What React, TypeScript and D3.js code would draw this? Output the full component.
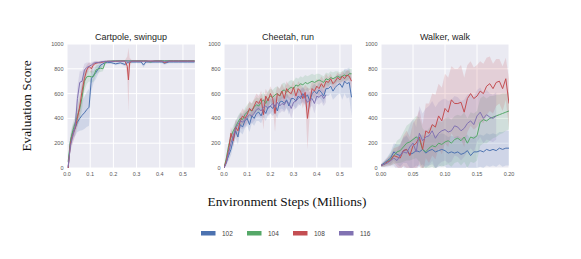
import React from "react";
import * as d3 from "d3";

// colours (seaborn deep)
const COLORS = ["#4C72B0", "#55A868", "#C44E52", "#8172B2"];
const SERIES_NAMES = ["102", "104", "108", "116"];
const Y_TICKS = [0, 200, 400, 600, 800, 1000];

// ---- Cartpole, swingup ----
const cartX = [0.005, 0.015, 0.025, 0.035, 0.045, 0.055, 0.065, 0.075, 0.085, 0.095, 0.105, 0.115, 0.125, 0.135, 0.145, 0.155, 0.165, 0.175,
  0.19, 0.21, 0.23, 0.25, 0.26, 0.265, 0.27, 0.28, 0.3, 0.32, 0.33, 0.34, 0.36, 0.38, 0.4, 0.41, 0.42, 0.44, 0.46, 0.48, 0.5, 0.52, 0.55];
const cartBlue = [0, 220, 290, 320, 370, 400, 425, 445, 470, 490, 720, 750, 770, 800, 830, 840, 850, 850,
  850, 840, 848, 835, 850, 850, 855, 855, 855, 855, 830, 855, 855, 855, 855, 855, 845, 855, 855, 855, 855, 855, 855];
const cartGreen = [50, 220, 300, 360, 420, 480, 570, 700, 735, 740, 735, 740, 790, 800, 805, 800, 850, 860,
  862, 865, 865, 865, 865, 865, 865, 865, 865, 865, 865, 865, 855, 865, 865, 865, 865, 865, 865, 865, 865, 865, 865];
const cartRed = [0, 200, 270, 320, 400, 500, 620, 720, 790, 820, 800, 835, 845, 850, 850, 855, 858, 860,
  860, 860, 862, 862, 820, 710, 850, 862, 862, 862, 862, 862, 862, 862, 862, 862, 850, 862, 862, 862, 862, 862, 862];
const cartPurple = [10, 180, 260, 330, 560, 690, 700, 790, 810, 820, 830, 845, 850, 850, 855, 858, 860, 860,
  860, 862, 862, 862, 862, 862, 862, 862, 862, 862, 862, 862, 862, 862, 862, 862, 860, 862, 862, 862, 862, 862, 862];
const cartBlueSd = [10, 40, 50, 60, 80, 100, 120, 130, 140, 150, 100, 60, 50, 40, 30, 20, 15, 10,
  10, 12, 10, 15, 10, 10, 10, 10, 10, 10, 20, 10, 10, 10, 10, 10, 12, 10, 10, 10, 10, 10, 10];
const cartGreenSd = [40, 60, 60, 60, 80, 100, 100, 80, 60, 40, 50, 40, 40, 30, 30, 20, 10, 8,
  6, 6, 6, 6, 6, 6, 6, 6, 6, 6, 6, 6, 10, 6, 6, 6, 6, 6, 6, 6, 6, 6, 6];
const cartRedSd = [10, 50, 60, 60, 70, 80, 80, 70, 40, 30, 40, 20, 15, 12, 10, 8, 8, 6,
  6, 6, 6, 6, 80, 260, 40, 6, 6, 6, 6, 6, 6, 6, 6, 6, 12, 6, 6, 6, 6, 6, 6];
const cartPurpleSd = [10, 40, 60, 70, 100, 90, 80, 50, 40, 30, 20, 15, 15, 10, 10, 8, 8, 6,
  6, 6, 6, 6, 6, 6, 6, 6, 6, 6, 6, 6, 6, 6, 6, 6, 8, 6, 6, 6, 6, 6, 6];

// ---- Cheetah, run ---- (evaluated every 0.01M steps)
const cheetahStep = 0.01;
const cheetahBlue = [0, 50, 100, 150, 230, 300, 250, 350, 330, 380, 400, 350, 420, 400, 440, 450, 420, 470, 440, 490,
  500, 480, 510, 460, 530, 540, 520, 550, 500, 560, 560, 540, 580, 560, 600, 570, 590, 540, 600, 620,
  600, 630, 610, 580, 640, 640, 660, 620, 650, 670, 680, 650, 700, 680, 690, 570];
const cheetahGreen = [0, 80, 180, 250, 300, 330, 370, 400, 390, 430, 450, 470, 460, 490, 510, 500, 530, 550, 520, 560,
  580, 570, 590, 600, 580, 620, 630, 610, 640, 650, 640, 670, 660, 680, 670, 690, 680, 690, 700, 690,
  700, 710, 700, 690, 720, 710, 730, 720, 730, 740, 730, 740, 750, 740, 760, 760];
const cheetahRed = [0, 60, 150, 280, 220, 330, 300, 380, 420, 400, 430, 480, 460, 500, 540, 520, 560, 430, 580, 540,
  600, 560, 440, 600, 580, 620, 560, 640, 610, 600, 650, 580, 640, 620, 560, 610, 400, 540, 640, 620,
  660, 640, 680, 650, 700, 690, 720, 680, 700, 730, 710, 740, 720, 750, 740, 700];
const cheetahPurple = [0, 40, 120, 200, 260, 320, 350, 380, 370, 390, 410, 430, 420, 440, 470, 480, 460, 490, 500, 480,
  500, 520, 490, 530, 500, 520, 510, 540, 520, 480, 530, 540, 560, 580, 590, 560, 530, 550, 560, 520,
  580, 570, 590, 560, 590];
const cheetahBlueSd = [5, 20, 40, 50, 50, 60, 60, 60, 60, 60, 60, 60, 60, 60, 60, 70, 60, 60, 60, 60,
  60, 60, 70, 60, 60, 60, 60, 60, 70, 60, 60, 60, 60, 60, 60, 60, 60, 70, 60, 60,
  60, 60, 60, 60, 60, 60, 60, 70, 80, 80, 80, 100, 100, 120, 120, 150];
const cheetahGreenSd = [5, 20, 30, 40, 40, 50, 50, 50, 50, 50, 60, 60, 60, 60, 60, 60, 60, 60, 60, 60,
  60, 60, 60, 60, 60, 60, 60, 60, 60, 60, 60, 60, 60, 60, 60, 60, 60, 60, 60, 60,
  60, 50, 50, 50, 50, 50, 50, 50, 50, 40, 40, 40, 40, 40, 40, 40];
const cheetahRedSd = [5, 20, 40, 50, 50, 60, 60, 60, 60, 60, 60, 60, 60, 60, 60, 60, 60, 120, 60, 60,
  60, 60, 150, 60, 60, 60, 80, 60, 60, 60, 60, 60, 60, 60, 80, 60, 250, 100, 60, 60,
  60, 60, 60, 60, 60, 40, 40, 40, 40, 40, 40, 40, 40, 40, 40, 60];
const cheetahPurpleSd = [5, 20, 40, 50, 50, 60, 60, 60, 60, 60, 60, 60, 60, 60, 60, 60, 60, 60, 60, 60,
  60, 60, 60, 60, 60, 60, 60, 60, 60, 80, 60, 60, 60, 60, 60, 60, 70, 60, 60, 80,
  60, 60, 60, 60, 60];

// ---- Walker, walk ---- (evaluated every 0.005M steps)
const walkerStep = 0.005;
const walkerBlue = [20, 40, 60, 80, 130, 110, 100, 140, 150, 110, 120, 140, 130, 150, 120, 140, 150, 130, 140, 150,
  140, 120, 130, 120, 130, 110, 120, 140, 100, 130, 130, 140, 130, 150, 140, 150, 140, 160, 150, 160, 160];
const walkerGreen = [20, 30, 50, 70, 100, 130, 140, 170, 200, 210, 230, 250, 230, 150, 130, 160, 180, 170, 200, 190,
  210, 220, 200, 230, 240, 220, 250, 200, 250, 240, 260, 370, 390, 380, 400, 410, 420, 430, 440, 450, 460];
const walkerRed = [20, 30, 50, 60, 100, 90, 80, 140, 150, 100, 180, 200, 250, 150, 300, 280, 350, 330, 420, 380,
  480, 450, 550, 520, 520, 530, 450, 560, 600, 560, 580, 620, 600, 660, 680, 640, 690, 700, 640, 720, 520];
const walkerPurple = [20, 30, 40, 60, 80, 60, 100, 130, 120, 170, 200, 130, 280, 220, 250, 260, 300, 240, 280, 300,
  310, 290, 300, 340, 330, 300, 320, 360, 380, 350, 420, 450, 400, 430, 410, 400, 420];
const walkerBlueSd = [10, 20, 30, 50, 70, 80, 90, 100, 110, 110, 120, 120, 120, 120, 120, 120, 120, 130, 130, 130,
  130, 130, 130, 130, 130, 130, 130, 130, 130, 130, 130, 130, 130, 130, 130, 130, 130, 130, 140, 140, 140];
const walkerGreenSd = [10, 20, 30, 50, 70, 90, 100, 120, 140, 150, 160, 170, 180, 170, 160, 160, 170, 180, 180, 180,
  190, 190, 190, 190, 190, 200, 200, 200, 200, 200, 200, 190, 190, 180, 180, 170, 170, 160, 160, 150, 150];
const walkerRedSd = [10, 20, 30, 40, 60, 80, 100, 120, 150, 150, 180, 200, 220, 200, 220, 240, 250, 260, 260, 270,
  280, 280, 270, 280, 280, 300, 280, 270, 260, 250, 250, 240, 240, 230, 220, 200, 190, 180, 180, 170, 200];
const walkerPurpleSd = [10, 20, 30, 40, 60, 80, 100, 120, 150, 170, 200, 200, 220, 220, 230, 240, 240, 250, 250, 250,
  250, 250, 250, 240, 240, 240, 230, 230, 220, 220, 210, 200, 200, 200, 190, 190, 190];

type Series = { x: number[]; y: number[]; sd: number[] };
const steps = (n: number, step: number) => d3.range(n).map((i) => +(i * step).toFixed(4));

const panels = [
  {
    title: "Cartpole, swingup",
    xMax: 0.552,
    xTicks: [0, 0.1, 0.2, 0.3, 0.4, 0.5],
    fmt: d3.format(".1f"),
    series: [
      { x: cartX, y: cartBlue, sd: cartBlueSd },
      { x: cartX, y: cartGreen, sd: cartGreenSd },
      { x: cartX, y: cartRed, sd: cartRedSd },
      { x: cartX, y: cartPurple, sd: cartPurpleSd },
    ] as Series[],
  },
  {
    title: "Cheetah, run",
    xMax: 0.552,
    xTicks: [0, 0.1, 0.2, 0.3, 0.4, 0.5],
    fmt: d3.format(".1f"),
    series: [
      { x: steps(cheetahBlue.length, cheetahStep), y: cheetahBlue, sd: cheetahBlueSd },
      { x: steps(cheetahGreen.length, cheetahStep), y: cheetahGreen, sd: cheetahGreenSd },
      { x: steps(cheetahRed.length, cheetahStep), y: cheetahRed, sd: cheetahRedSd },
      { x: steps(cheetahPurple.length, cheetahStep), y: cheetahPurple, sd: cheetahPurpleSd },
    ] as Series[],
  },
  {
    title: "Walker, walk",
    xMax: 0.2,
    xTicks: [0, 0.05, 0.1, 0.15, 0.2],
    fmt: d3.format(".2f"),
    series: [
      { x: steps(walkerBlue.length, walkerStep), y: walkerBlue, sd: walkerBlueSd },
      { x: steps(walkerGreen.length, walkerStep), y: walkerGreen, sd: walkerGreenSd },
      { x: steps(walkerRed.length, walkerStep), y: walkerRed, sd: walkerRedSd },
      { x: steps(walkerPurple.length, walkerStep), y: walkerPurple, sd: walkerPurpleSd },
    ] as Series[],
  },
];

const W = 581;
const H = 259;
const PANEL_LEFT = [67, 224, 381];
const PANEL_W = 128;
const TOP = 44;
const PANEL_H = 124;
const SANS = "'Liberation Sans', Arial, sans-serif";
const SERIF = "'Liberation Serif', 'Times New Roman', serif";

const Panel: React.FC<{ idx: number }> = ({ idx }) => {
  const p = panels[idx];
  const left = PANEL_LEFT[idx];
  const x = d3.scaleLinear().domain([0, p.xMax]).range([0, PANEL_W]);
  const y = d3.scaleLinear().domain([0, 1000]).range([PANEL_H, 0]);
  const clipId = `clip-${idx}`;

  return (
    <g transform={`translate(${left},${TOP})`}>
      <defs>
        <clipPath id={clipId}>
          <rect width={PANEL_W} height={PANEL_H} />
        </clipPath>
      </defs>
      <rect width={PANEL_W} height={PANEL_H} fill="#EAEAF2" />
      {Y_TICKS.map((t) => (
        <line key={"gy" + t} x1={0} x2={PANEL_W} y1={y(t)} y2={y(t)} stroke="#fff" strokeWidth={1} />
      ))}
      {p.xTicks.map((t) => (
        <line key={"gx" + t} x1={x(t)} x2={x(t)} y1={0} y2={PANEL_H} stroke="#fff" strokeWidth={1} />
      ))}
      <g clipPath={`url(#${clipId})`}>
        {p.series.map((s, i) => {
          const area = d3
            .area<number>()
            .x((_, j) => x(s.x[j]))
            .y0((d, j) => y(d - s.sd[j]))
            .y1((d, j) => y(d + s.sd[j]));
          return <path key={"a" + i} d={area(s.y) || ""} fill={COLORS[i]} fillOpacity={0.17} stroke="none" />;
        })}
        {p.series.map((s, i) => {
          const line = d3
            .line<number>()
            .x((_, j) => x(s.x[j]))
            .y((d) => y(d));
          return <path key={"l" + i} d={line(s.y) || ""} fill="none" stroke={COLORS[i]} strokeWidth={1} />;
        })}
      </g>
      {Y_TICKS.map((t) => (
        <text key={"ty" + t} x={-3.5} y={y(t)} dy="0.35em" textAnchor="end" fontSize={5.5} fill="#555" fontFamily={SANS}>
          {t}
        </text>
      ))}
      {p.xTicks.map((t) => (
        <text key={"tx" + t} x={x(t)} y={PANEL_H + 8} textAnchor="middle" fontSize={5.5} fill="#555" fontFamily={SANS}>
          {p.fmt(t)}
        </text>
      ))}
      <text x={PANEL_W / 2} y={-4} textAnchor="middle" fontSize={9} fill="#262626" fontFamily={SANS}>
        {p.title}
      </text>
    </g>
  );
};

export default function App() {
  const legendX = [201, 247, 293, 339];
  return (
    <svg width={W} height={H} style={{ position: "absolute", left: 0, top: 0 }}>
      <rect width={W} height={H} fill="#fff" />
      {panels.map((_, i) => (
        <Panel key={i} idx={i} />
      ))}
      <text
        transform={`translate(31,${TOP + PANEL_H / 2}) rotate(-90)`}
        textAnchor="middle"
        fontSize={13.3}
        fill="#111"
        fontFamily={SERIF}
      >
        Evaluation Score
      </text>
      <text x={287} y={206} textAnchor="middle" fontSize={13.3} fill="#111" fontFamily={SERIF}>
        Environment Steps (Millions)
      </text>
      {SERIES_NAMES.map((name, i) => (
        <g key={name} transform={`translate(${legendX[i]},231)`}>
          <rect width={14.5} height={4.5} fill={COLORS[i]} />
          <text x={21} y={4.8} fontSize={6.5} fill="#444" fontFamily={SANS}>
            {name}
          </text>
        </g>
      ))}
    </svg>
  );
}
